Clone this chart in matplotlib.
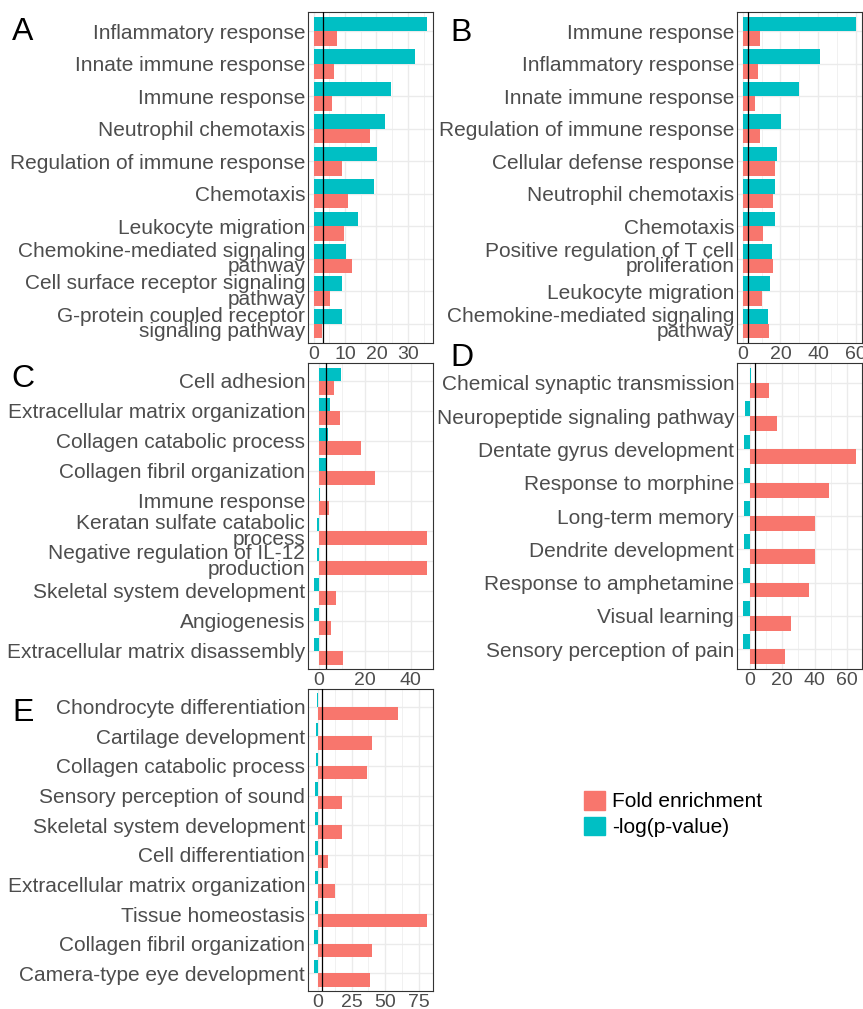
"""GO enrichment panels A-E: fold enrichment vs -log(p-value) per term."""
import matplotlib
matplotlib.use("Agg")
import matplotlib.pyplot as plt
import numpy as np
from matplotlib.patches import Patch
from matplotlib.ticker import MultipleLocator

plt.rcParams["font.family"] = ["Liberation Sans", "DejaVu Sans"]

RED = "#F8766D"
CYAN = "#00BFC4"
GRID = "#EBEBEB"
TXT = "#4D4D4D"
CUTOFF = -np.log(0.05)

# ---- data ----
terms_a = ["Inflammatory response", "Innate immune response", "Immune response",
           "Neutrophil chemotaxis", "Regulation of immune response", "Chemotaxis",
           "Leukocyte migration", "Chemokine-mediated signaling\npathway",
           "Cell surface receptor signaling\npathway",
           "G-protein coupled receptor\nsignaling pathway"]
logp_a = [36.2, 32.4, 24.7, 22.8, 20.3, 19.3, 14.2, 10.4, 9.1, 9.1]
fold_a = [7.5, 6.6, 5.9, 18.0, 9.1, 11.0, 9.8, 12.3, 5.3, 2.8]

terms_b = ["Immune response", "Inflammatory response", "Innate immune response",
           "Regulation of immune response", "Cellular defense response",
           "Neutrophil chemotaxis", "Chemotaxis",
           "Positive regulation of T cell\nproliferation", "Leukocyte migration",
           "Chemokine-mediated signaling\npathway"]
logp_b = [60.2, 40.7, 29.6, 20.2, 18.1, 17.0, 17.0, 15.4, 14.4, 13.3]
fold_b = [9.1, 7.9, 6.5, 9.1, 17.0, 15.9, 10.7, 15.9, 10.2, 13.8]

terms_c = ["Cell adhesion", "Extracellular matrix organization",
           "Collagen catabolic process", "Collagen fibril organization",
           "Immune response", "Keratan sulfate catabolic\nprocess",
           "Negative regulation of IL-12\nproduction", "Skeletal system development",
           "Angiogenesis", "Extracellular matrix disassembly"]
logp_c = [9.6, 4.9, 3.9, 3.1, 0.5, -0.7, -0.7, -2.0, -2.0, -2.3]
fold_c = [6.5, 9.1, 18.2, 24.6, 4.4, 47.2, 47.2, 7.4, 5.2, 10.4]

terms_d = ["Chemical synaptic transmission", "Neuropeptide signaling pathway",
           "Dentate gyrus development", "Response to morphine", "Long-term memory",
           "Dendrite development", "Response to amphetamine", "Visual learning",
           "Sensory perception of pain"]
logp_d = [0.6, -2.9, -3.7, -3.7, -3.7, -3.7, -4.3, -4.3, -4.3]
fold_d = [11.7, 16.6, 65.6, 48.5, 39.9, 39.9, 36.2, 25.2, 21.5]

terms_e = ["Chondrocyte differentiation", "Cartilage development",
           "Collagen catabolic process", "Sensory perception of sound",
           "Skeletal system development", "Cell differentiation",
           "Extracellular matrix organization", "Tissue homeostasis",
           "Collagen fibril organization", "Camera-type eye development"]
logp_e = [-0.5, -1.2, -1.2, -2.4, -2.4, -2.4, -2.4, -2.4, -3.2, -3.2]
fold_e = [59.8, 39.8, 36.1, 17.6, 17.6, 7.2, 12.4, 81.3, 39.8, 39.0]

W, H = 863, 1009


def box(l, t, r, b):
    # pixel box -> figure fraction rect
    return [l / W, 1 - b / H, (r - l) / W, (b - t) / H]


def draw_panel(ax, terms, fold, logp, major, minor):
    y = np.arange(len(terms))
    h = 0.45
    ax.barh(y - h / 2, logp, height=h, color=CYAN, zorder=2)
    ax.barh(y + h / 2, fold, height=h, color=RED, zorder=2)
    ax.axvline(CUTOFF, color="black", lw=0.9, zorder=3)

    lo = min(0, min(logp), min(fold))
    hi = max(max(logp), max(fold))
    pad = 0.05 * (hi - lo)
    ax.set_xlim(lo - pad, hi + pad)
    ax.set_ylim(len(terms) - 0.4, -0.6)

    ax.set_yticks(y)
    ax.set_yticklabels(terms)
    for lbl in ax.get_yticklabels():
        lbl.set_linespacing(0.78)
    ax.xaxis.set_major_locator(MultipleLocator(major))
    ax.xaxis.set_minor_locator(MultipleLocator(minor))
    ax.grid(which="major", color=GRID, lw=1.0)
    ax.grid(which="minor", axis="x", color=GRID, lw=0.5)
    ax.set_axisbelow(True)
    ax.tick_params(which="both", length=0)
    ax.tick_params(axis="y", labelsize=15, labelcolor=TXT, pad=2)
    ax.tick_params(axis="x", labelsize=14, labelcolor=TXT, pad=2)
    for s in ax.spines.values():
        s.set_color("#333333")
        s.set_linewidth(0.8)


fig = plt.figure(figsize=(W / 100, H / 100), dpi=100)

ax_a = fig.add_axes(box(308, 12, 433, 343))
ax_b = fig.add_axes(box(737, 12, 862, 343))
ax_c = fig.add_axes(box(308, 363, 433, 669))
ax_d = fig.add_axes(box(737, 363, 862, 669))
ax_e = fig.add_axes(box(308, 689, 433, 991))

draw_panel(ax_a, terms_a, fold_a, logp_a, 10, 5)
draw_panel(ax_b, terms_b, fold_b, logp_b, 20, 10)
draw_panel(ax_c, terms_c, fold_c, logp_c, 20, 10)
draw_panel(ax_d, terms_d, fold_d, logp_d, 20, 10)
draw_panel(ax_e, terms_e, fold_e, logp_e, 25, 12.5)

for letter, (x, y) in zip("ABCDE", [(11.5, 16.5), (450, 18), (11, 364),
                                      (450, 343.5), (12, 698)]):
    fig.text(x / W, 1 - y / H, letter, fontsize=23, color="black",
             ha="left", va="top")

handles = [Patch(color=RED, label="Fold enrichment"),
           Patch(color=CYAN, label="-log(p-value)")]
fig.legend(handles=handles, loc="upper left",
           bbox_to_anchor=(584 / W, 1 - 791 / H), frameon=False,
           fontsize=15, handlelength=1.0, handleheight=1.0,
           handletextpad=0.35, labelspacing=0.25, borderpad=0, borderaxespad=0)

fig.savefig("out.png", dpi=100)
